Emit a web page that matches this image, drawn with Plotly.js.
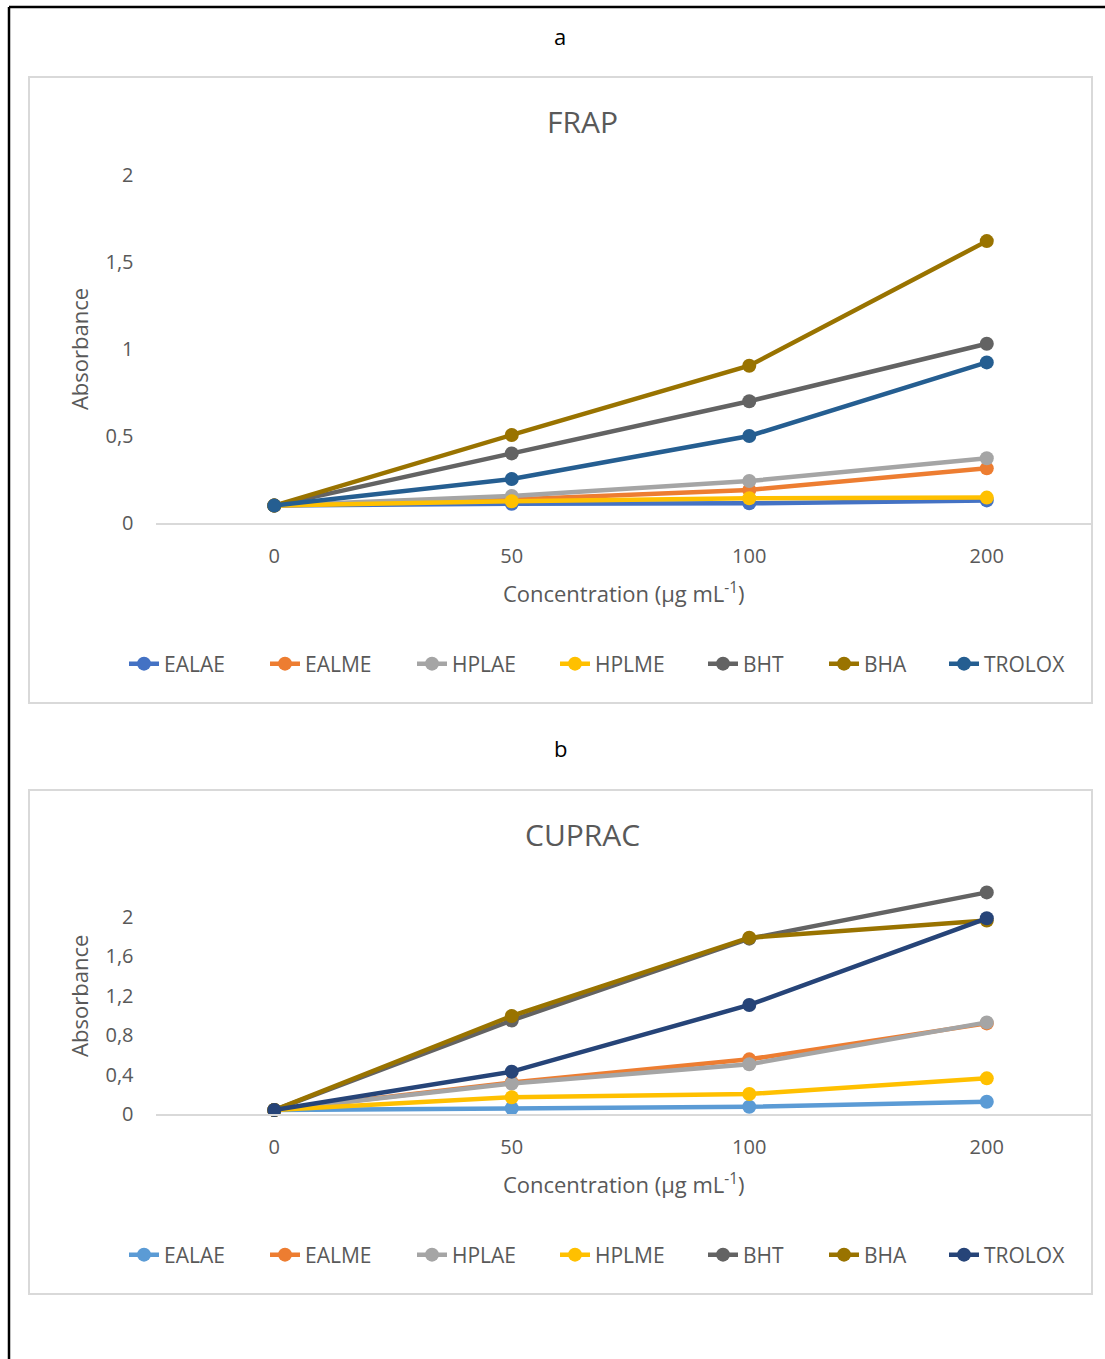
<!DOCTYPE html>
<html>
<head>
<meta charset="utf-8">
<script src="https://cdn.plot.ly/plotly-3.0.1.min.js"></script>
<style>html,body{margin:0;padding:0;background:#fff;}#chart{width:1105px;height:1359px;}</style>
</head>
<body>
<div id="chart"></div>
<script>
// ---- data ----
const concentrations = ['0', '50', '100', '200'];
const seriesNames = ['EALAE', 'EALME', 'HPLAE', 'HPLME', 'BHT', 'BHA', 'TROLOX'];

// FRAP absorbance
const frapEALAE  = [0.10, 0.11, 0.113, 0.13];
const frapEALME  = [0.10, 0.135, 0.19, 0.314];
const frapHPLAE  = [0.10, 0.155, 0.241, 0.372];
const frapHPLME  = [0.10, 0.125, 0.142, 0.146];
const frapBHT    = [0.10, 0.40, 0.70, 1.03];
const frapBHA    = [0.10, 0.506, 0.904, 1.62];
const frapTROLOX = [0.10, 0.253, 0.50, 0.923];

// CUPRAC absorbance
const cupEALAE  = [0.04, 0.058, 0.074, 0.125];
const cupEALME  = [0.04, 0.32, 0.555, 0.92];
const cupHPLAE  = [0.04, 0.31, 0.505, 0.93];
const cupHPLME  = [0.04, 0.17, 0.203, 0.362];
const cupBHT    = [0.04, 0.95, 1.78, 2.25];
const cupBHA    = [0.04, 0.995, 1.79, 1.965];
const cupTROLOX = [0.04, 0.43, 1.107, 1.987];

const frapData = [frapEALAE, frapEALME, frapHPLAE, frapHPLME, frapBHT, frapBHA, frapTROLOX];
const cupData  = [cupEALAE, cupEALME, cupHPLAE, cupHPLME, cupBHT, cupBHA, cupTROLOX];

const frapColors = ['#4472C4', '#ED7D31', '#A5A5A5', '#FFC000', '#636363', '#997300', '#255E91'];
const cupColors  = ['#5B9BD5', '#ED7D31', '#A5A5A5', '#FFC000', '#636363', '#997300', '#264478'];

// ---- geometry helpers (page pixels -> paper) ----
const W = 1105, H = 1359;
const px = v => v / W;
const py = v => 1 - v / H;

const FONT = 'Open Sans, sans-serif';
const TXT = '#595959';

// left edge (px) of each legend entry's text, as in the reference
const legendTextStart = [166, 307, 454, 597, 745, 866, 986];

const legendKey = k => (k === 1 ? 'legend' : 'legend' + k);

const traces = [];
seriesNames.forEach((n, i) => {
  traces.push({
    type: 'scatter', mode: 'lines+markers', name: n,
    x: concentrations, y: frapData[i], xaxis: 'x', yaxis: 'y',
    line: {color: frapColors[i], width: 4.5},
    marker: {color: frapColors[i], size: 14},
    cliponaxis: false, legend: legendKey(i + 1)
  });
});
seriesNames.forEach((n, i) => {
  traces.push({
    type: 'scatter', mode: 'lines+markers', name: n,
    x: concentrations, y: cupData[i], xaxis: 'x2', yaxis: 'y2',
    line: {color: cupColors[i], width: 4.5},
    marker: {color: cupColors[i], size: 14},
    cliponaxis: false, legend: legendKey(i + 8)
  });
});

const xCommon = {
  type: 'category', range: [-0.5, 3.443], showgrid: false, zeroline: false,
  showline: true, linecolor: '#D9D9D9', linewidth: 1.5, ticks: '',
  ticklabelstandoff: 14,
  tickfont: {family: FONT, size: 20, color: TXT},
  title: {text: 'Concentration (μg mL<sup>-1</sup>)', font: {family: FONT, size: 22, color: TXT}, standoff: 19},
  fixedrange: true
};
const yCommon = {
  showgrid: false, zeroline: false, showline: false, ticks: '',
  ticklabelstandoff: 21,
  tickfont: {family: FONT, size: 20, color: TXT},
  title: {text: 'Absorbance', font: {family: FONT, size: 22, color: TXT}, standoff: 10},
  fixedrange: true
};

const layout = {
  width: W, height: H, margin: {l: 0, r: 0, t: 0, b: 0},
  paper_bgcolor: '#fff', plot_bgcolor: '#fff',
  separators: ', ',
  showlegend: true,
  xaxis: Object.assign({}, xCommon, {domain: [px(155.5), px(1092)], anchor: 'y'}),
  yaxis: Object.assign({}, yCommon, {domain: [py(523), py(175)], range: [0, 2], tickvals: [0, 0.5, 1, 1.5, 2], anchor: 'x'}),
  xaxis2: Object.assign({}, xCommon, {domain: [px(155.5), px(1092)], anchor: 'y2'}),
  yaxis2: Object.assign({}, yCommon, {domain: [py(1114), py(877.6)], range: [0, 2.4], tickvals: [0, 0.4, 0.8, 1.2, 1.6, 2], anchor: 'x2'}),
  annotations: [
    {text: 'a', x: px(560), y: py(36), xref: 'paper', yref: 'paper', showarrow: false, xanchor: 'center', yanchor: 'middle', font: {family: FONT, size: 22, color: '#000'}},
    {text: 'b', x: px(560), y: py(748), xref: 'paper', yref: 'paper', showarrow: false, xanchor: 'center', yanchor: 'middle', font: {family: FONT, size: 22, color: '#000'}},
    {text: 'FRAP', x: px(582), y: py(121), xref: 'paper', yref: 'paper', showarrow: false, xanchor: 'center', yanchor: 'middle', font: {family: FONT, size: 30, color: TXT}},
    {text: 'CUPRAC', x: px(582), y: py(834), xref: 'paper', yref: 'paper', showarrow: false, xanchor: 'center', yanchor: 'middle', font: {family: FONT, size: 30, color: TXT}}
  ],
  shapes: [
    // outer black frame
    {type: 'line', xref: 'paper', yref: 'paper', x0: px(9), x1: px(9), y0: py(7), y1: py(1370), line: {color: '#000', width: 2.5}},
    {type: 'line', xref: 'paper', yref: 'paper', x0: px(9), x1: px(1110), y0: py(7), y1: py(7), line: {color: '#000', width: 2.5}},
    // chart area boxes
    {type: 'rect', xref: 'paper', yref: 'paper', x0: px(29), x1: px(1092), y0: py(77), y1: py(703), line: {color: '#D9D9D9', width: 2}, layer: 'below'},
    {type: 'rect', xref: 'paper', yref: 'paper', x0: px(29), x1: px(1092), y0: py(790), y1: py(1294), line: {color: '#D9D9D9', width: 2}, layer: 'below'}
  ]
};

// one legend per entry so that entries sit where the reference places them
legendTextStart.forEach((t, i) => {
  const base = {
    orientation: 'h', xanchor: 'left', yanchor: 'middle', x: px(t - 42),
    font: {family: FONT, size: 21, color: TXT}, bgcolor: 'rgba(0,0,0,0)'
  };
  layout[legendKey(i + 1)] = Object.assign({}, base, {y: py(664)});
  layout[legendKey(i + 8)] = Object.assign({}, base, {y: py(1255)});
});

Plotly.newPlot('chart', traces, layout, {displayModeBar: false, staticPlot: true});
</script>
</body>
</html>
